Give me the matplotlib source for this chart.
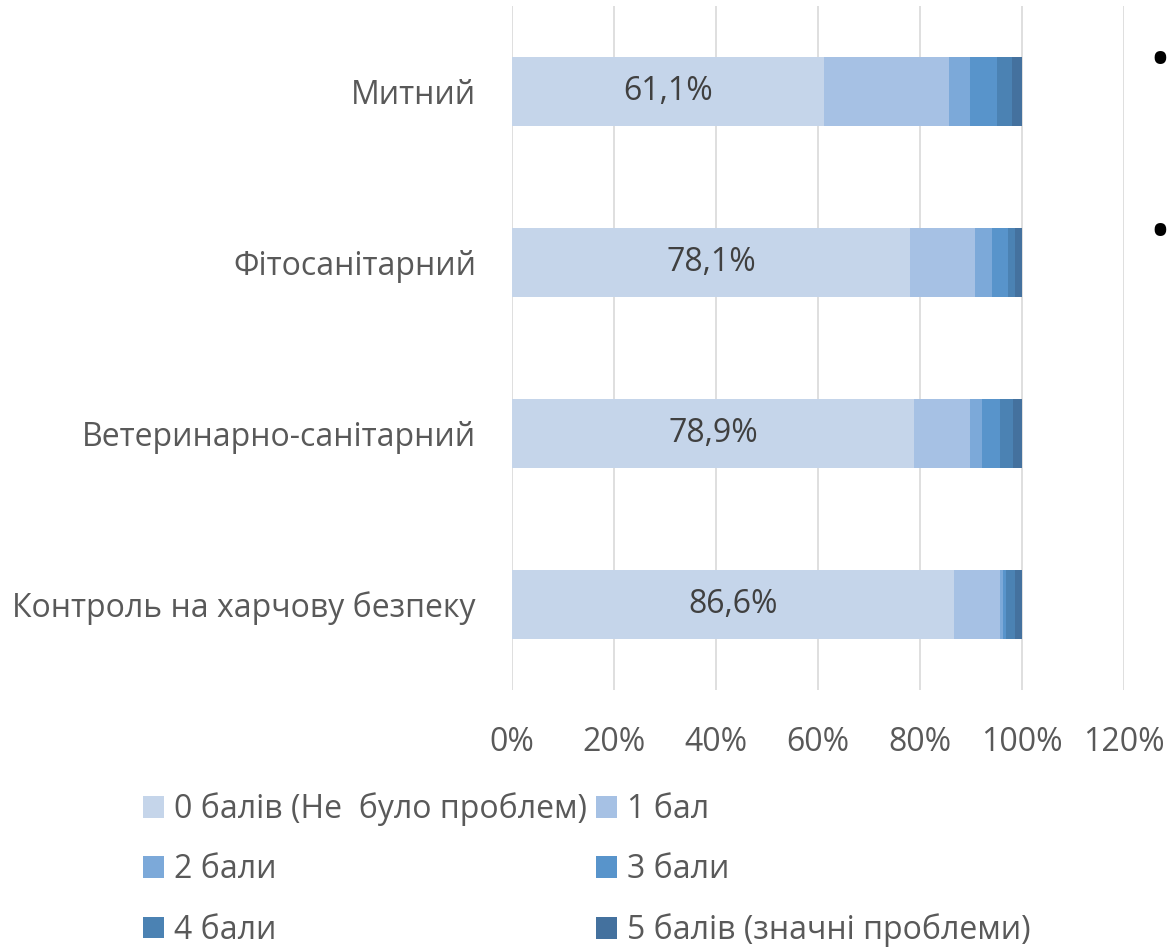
import matplotlib.pyplot as plt
import numpy as np

plt.rcParams['font.family'] = ['Open Sans', 'DejaVu Sans']

categories = ['Митний', 'Фітосанітарний', 'Ветеринарно-санітарний', 'Контроль на харчову безпеку']
series = ['0 балів (Не  було проблем)', '1 бал', '2 бали', '3 бали', '4 бали', '5 балів (значні проблеми)']
# shares in %, one row per category, columns = series
values = np.array([
    [61.1, 24.6, 4.1, 5.2, 3.0, 2.0],
    [78.1, 12.6, 3.4, 3.2, 1.4, 1.3],
    [78.9, 10.9, 2.4, 3.4, 2.6, 1.8],
    [86.6, 9.1, 0.6, 0.6, 1.7, 1.4],
])
labels = ['61,1%', '78,1%', '78,9%', '86,6%']
colors = ['#c5d5ea', '#a6c1e4', '#7ca9d9', '#5894cb', '#4b82b3', '#44719e']

fig = plt.figure(figsize=(11.7, 9.47), dpi=100)
ax = fig.add_axes([0.4376, 0.2714, 0.5231, 0.7223])

y = np.arange(len(categories))
left = np.zeros(len(categories))
handles = []
for j, name in enumerate(series):
    h = ax.barh(y, values[:, j], left=left, height=0.4, color=colors[j], label=name, zorder=3)
    handles.append(h)
    left += values[:, j]

for i, txt in enumerate(labels):
    ax.text(values[i, 0] / 2, y[i], txt, ha='center', va='center', fontsize=23, color='#404040', zorder=4)

ax.set_xlim(0, 120)
ax.set_ylim(3.5, -0.5)
ax.set_xticks(np.arange(0, 121, 20))
ax.set_xticklabels([f'{v}%' for v in range(0, 121, 20)])
ax.set_yticks(y)
ax.set_yticklabels(categories)
ax.tick_params(axis='both', length=0, labelsize=23, labelcolor='#595959')
ax.tick_params(axis='x', pad=26)
ax.tick_params(axis='y', pad=26)
ax.grid(axis='x', color='#d9d9d9', linewidth=1.2, zorder=0)
for s in ax.spines.values():
    s.set_visible(False)

order = [0, 2, 4, 1, 3, 5]
fig.legend([handles[k] for k in order], [series[k] for k in order], ncol=2,
           loc='lower left', bbox_to_anchor=(0.103, -0.024), frameon=False,
           fontsize=23, labelcolor='#595959', handlelength=0.66, handleheight=0.66,
           handletextpad=0.3, columnspacing=0.3, labelspacing=0.85, borderpad=0.2)

# bullets from the surrounding slide, at the right edge
fig.text(1.0, 1 - 63 / 947, '•', fontsize=40, ha='right', va='center', color='black')
fig.text(1.0, 1 - 236 / 947, '•', fontsize=40, ha='right', va='center', color='black')

fig.savefig('out.png', dpi=100)
